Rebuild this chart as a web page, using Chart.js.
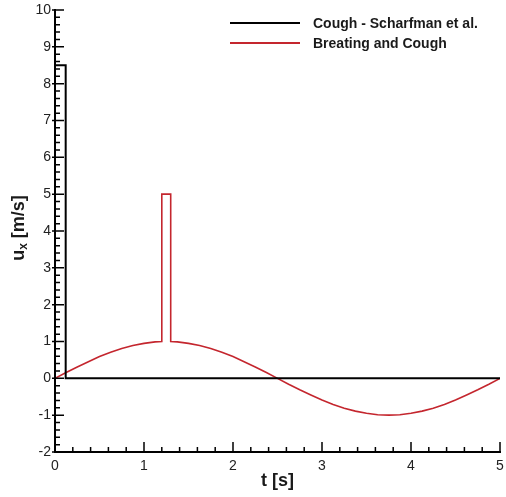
<!DOCTYPE html>
<html>
<head>
<meta charset="utf-8">
<script src="https://cdn.jsdelivr.net/npm/chart.js@4/dist/chart.umd.min.js"></script>
<style>
  html, body { margin: 0; padding: 0; background: #fff; }
  #wrap { width: 506px; height: 497px; }
</style>
</head>
<body>
<div id="wrap"><canvas id="chart" width="506" height="497"></canvas></div>
<script>
// cough profile (Scharfman et al.)
const coughT = [0, 0, 0.12, 0.12, 5];
const coughU = [0, 8.5, 8.5, 0, 0];

// breathing + cough profile
const breathT = [0, 0.125, 0.25, 0.375, 0.5, 0.625, 0.75, 0.875, 1, 1.125,
  1.2, 1.2, 1.3, 1.3,
  1.375, 1.5, 1.625, 1.75, 1.875, 2, 2.125, 2.25, 2.375, 2.5,
  2.625, 2.75, 2.875, 3, 3.125, 3.25, 3.375, 3.5, 3.625, 3.75, 3.875, 4,
  4.125, 4.25, 4.375, 4.5, 4.625, 4.75, 4.875, 5];
const breathU = [0, 0.16, 0.31, 0.45, 0.59, 0.71, 0.81, 0.89, 0.95, 0.99,
  1.0, 5, 5, 1.0,
  0.99, 0.95, 0.89, 0.81, 0.71, 0.59, 0.45, 0.31, 0.16, 0,
  -0.16, -0.31, -0.45, -0.59, -0.71, -0.81, -0.89, -0.95, -0.99, -1.0, -0.99, -0.95,
  -0.89, -0.81, -0.71, -0.59, -0.45, -0.31, -0.16, 0];

const seriesNames = ['Cough - Scharfman et al.', 'Breating and Cough'];
const xTicks = [0, 1, 2, 3, 4, 5];
const yTicks = [-2, -1, 0, 1, 2, 3, 4, 5, 6, 7, 8, 9, 10];

const FONT = '"Liberation Sans", Arial, sans-serif';
const toPts = (xs, ys) => xs.map((x, i) => ({ x: x, y: ys[i] }));

// inward major/minor ticks like the original plot
const tickMarks = {
  id: 'tickMarks',
  afterDatasetsDraw(chart) {
    const ctx = chart.ctx;
    const xs = chart.scales.x, ys = chart.scales.y;
    const left = chart.chartArea.left, bottom = chart.chartArea.bottom;
    ctx.save();
    ctx.strokeStyle = '#000';
    ctx.lineWidth = 1.5;
    ctx.beginPath();
    for (let v = xs.min; v <= xs.max + 1e-9; v += 0.2) {
      const p = xs.getPixelForValue(v);
      const major = Math.abs(v - Math.round(v)) < 1e-6;
      ctx.moveTo(p, bottom);
      ctx.lineTo(p, bottom - (major ? 10 : 5));
    }
    for (let v = ys.min; v <= ys.max + 1e-9; v += 0.2) {
      const p = ys.getPixelForValue(v);
      const major = Math.abs(v - Math.round(v)) < 1e-6;
      ctx.moveTo(left - (major ? 3 : 0), p);
      ctx.lineTo(left + (major ? 9 : 5), p);
    }
    ctx.stroke();
    ctx.restore();
  }
};

// legend in the top right corner
const cornerLegend = {
  id: 'cornerLegend',
  afterDraw(chart) {
    const ctx = chart.ctx;
    ctx.save();
    ctx.font = 'bold 14px ' + FONT;
    ctx.textBaseline = 'middle';
    chart.data.datasets.forEach((ds, i) => {
      const y = 23 + i * 20;
      ctx.strokeStyle = ds.borderColor;
      ctx.lineWidth = 2;
      ctx.beginPath();
      ctx.moveTo(230, y);
      ctx.lineTo(300, y);
      ctx.stroke();
      ctx.fillStyle = '#1a1a1a';
      ctx.fillText(ds.label, 313, y + 1);
    });
    ctx.restore();
  }
};

// y title with subscript x
const yTitle = {
  id: 'yTitle',
  afterDraw(chart) {
    const ctx = chart.ctx;
    const a = chart.chartArea;
    const big = 'bold 18px ' + FONT, small = 'bold 12px ' + FONT;
    ctx.save();
    ctx.font = big;
    const wu = ctx.measureText('u').width;
    const wr = ctx.measureText(' [m/s]').width;
    ctx.font = small;
    const wx = ctx.measureText('x').width;
    const total = wu + wx + wr;
    ctx.translate(19, (a.top + a.bottom) / 2 - 3);
    ctx.rotate(-Math.PI / 2);
    ctx.fillStyle = '#1a1a1a';
    ctx.textBaseline = 'middle';
    let x = -total / 2;
    ctx.font = big;
    ctx.fillText('u', x, 0);
    x += wu;
    ctx.font = small;
    ctx.fillText('x', x, 5);
    x += wx;
    ctx.font = big;
    ctx.fillText(' [m/s]', x, 0);
    ctx.restore();
  }
};

new Chart(document.getElementById('chart'), {
  type: 'line',
  data: {
    datasets: [
      {
        label: seriesNames[0],
        data: toPts(coughT, coughU),
        borderColor: '#000000',
        borderWidth: 2,
        pointRadius: 0,
        tension: 0
      },
      {
        label: seriesNames[1],
        data: toPts(breathT, breathU),
        borderColor: '#c4262e',
        borderWidth: 1.6,
        pointRadius: 0,
        tension: 0
      }
    ]
  },
  options: {
    responsive: false,
    animation: false,
    layout: { padding: { top: 10, right: 6, left: 0, bottom: 0 } },
    plugins: {
      legend: { display: false },
      tooltip: { enabled: false }
    },
    scales: {
      x: {
        type: 'linear',
        min: 0,
        max: 5,
        afterBuildTicks: s => { s.ticks = xTicks.map(v => ({ value: v })); },
        afterFit: s => { s.height = 45; s.paddingLeft = 0; s.paddingRight = 0; },
        ticks: { color: '#222', font: { family: FONT, size: 14 }, padding: 6, maxRotation: 0 },
        grid: { display: false, drawTicks: false },
        border: { display: true, color: '#000', width: 2 },
        title: {
          display: true,
          text: 't [s]',
          color: '#1a1a1a',
          font: { family: FONT, size: 18, weight: 'bold' },
          padding: { top: 0, bottom: 5 }
        }
      },
      y: {
        min: -2,
        max: 10,
        afterBuildTicks: s => { s.ticks = yTicks.map(v => ({ value: v })); },
        afterFit: s => { s.width = 55; s.paddingTop = 0; s.paddingBottom = 0; },
        ticks: { color: '#222', font: { family: FONT, size: 14 }, padding: 4 },
        grid: { display: false, drawTicks: false },
        border: { display: true, color: '#000', width: 2 }
      }
    }
  },
  plugins: [tickMarks, cornerLegend, yTitle]
});
</script>
</body>
</html>
